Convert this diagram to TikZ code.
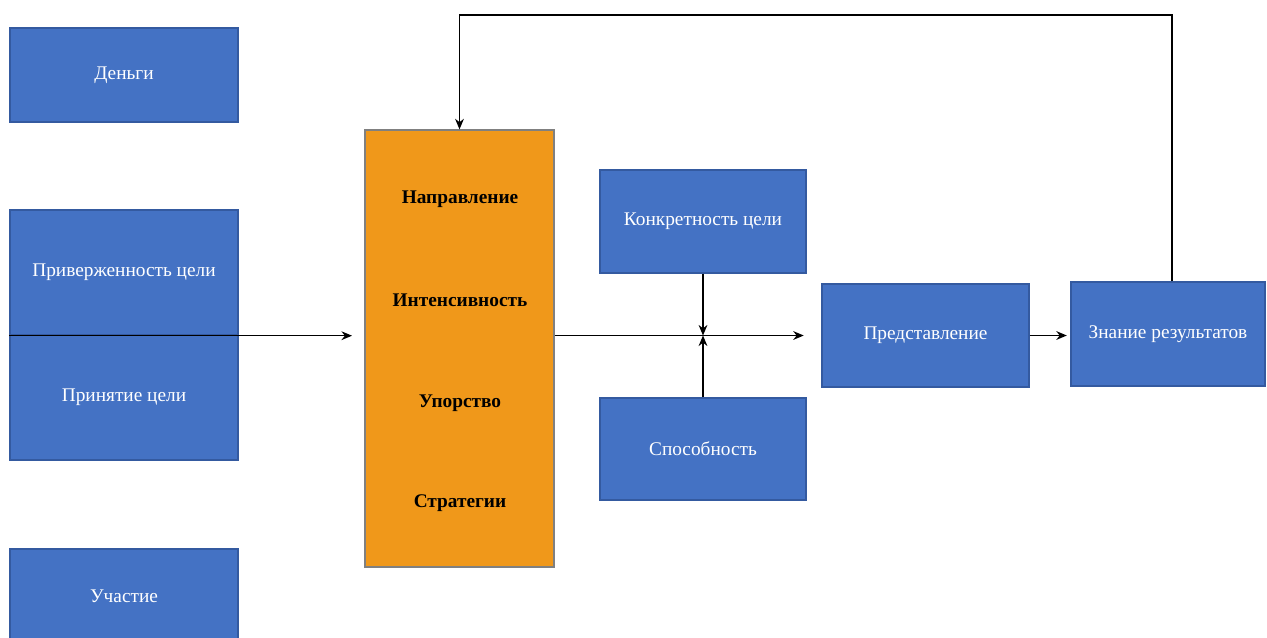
\documentclass[tikz,border=0pt]{standalone}
\usepackage{fontspec}
\setmainfont{Liberation Serif}
\usetikzlibrary{arrows.meta, positioning}
\definecolor{boxblue}{RGB}{68,114,196}
\definecolor{boxedge}{RGB}{52,90,160}
\definecolor{boxorange}{RGB}{240,152,26}
\tikzset{
  >={Stealth[length=6pt,width=5pt]},
  bluebox/.style={draw=boxedge, fill=boxblue, text=white, inner sep=0pt,
    font=\fontsize{11}{13}\selectfont, minimum width=#1},
  bluebox/.default=4.56cm,
  factor/.style={font=\fontsize{11}{13}\selectfont\bfseries, text=black}
}
\begin{document}
\begin{tikzpicture}[x=0.02cm, y=-0.02cm, line width=0.8pt]
  \useasboundingbox (0,0) rectangle (1267,637);
  \node[bluebox, minimum height=1.88cm] (money) at (124,75) {Деньги};
  \node[bluebox, minimum height=2.5cm] (commit) at (124,272.5) {Приверженность цели};
  \node[bluebox, minimum height=2.5cm] (accept) at (124,397.5) {Принятие цели};
  \node[bluebox, minimum height=1.88cm] (part) at (124,596) {Участие};
  \node[draw=gray, fill=boxorange, minimum width=3.78cm, minimum height=8.74cm]
    (effort) at (459.5,348.5) {};
  \node[factor] (dir) at (460,199) {Направление};
  \node[factor] (intens) at (460,300) {Интенсивность};
  \node[factor] (persist) at (460,403) {Упорство};
  \node[factor] (strat) at (460,503) {Стратегии};
  \node[bluebox=4.12cm, minimum height=2.06cm] (spec) at (703,221.5) {Конкретность цели};
  \node[bluebox=4.12cm, minimum height=2.04cm] (abil) at (703,449) {Способность};
  \node[bluebox=4.14cm, minimum height=2.06cm] (perf) at (925.5,335.5) {Представление};
  \node[bluebox=3.88cm, minimum height=2.08cm] (know) at (1168,334) {Знание результатов};
  \coordinate (goalin) at (352,335);
  \coordinate (loop) at (459.5,15);
  \draw[->] (commit.south west) -- (commit.south west -| goalin);
  \draw[->, shorten >=10pt] (effort.east |- perf.west) -- (perf.west);
  \draw[->] (spec.south) -- (spec.south |- perf.west);
  \draw[->] (abil.north) -- (abil.north |- perf.west);
  \draw[->, shorten >=2pt] (perf.east) -- (perf.east -| know.west);
  \draw[->] ([xshift=0.08cm]know.north) |- (loop) -- (effort.north);
\end{tikzpicture}
\end{document}
